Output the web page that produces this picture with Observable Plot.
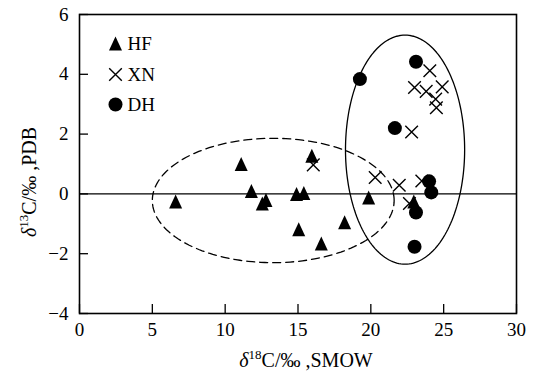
<!DOCTYPE html>
<html><head><meta charset="utf-8">
<script src="https://cdn.jsdelivr.net/npm/d3@7"></script>
<script src="https://cdn.jsdelivr.net/npm/@observablehq/plot@0.6"></script>
<style>
body{margin:0;background:#fff}
#chart svg{font-family:"Liberation Serif","Times New Roman",serif}
</style>
</head><body><div id="chart"></div>
<script>
// ---- data ----
const hfX = [6.6, 11.1, 11.8, 12.55, 12.8, 14.9, 15.4, 15.05, 15.95, 16.6, 18.2, 19.85, 22.95];
const hfY = [-0.25, 1.0, 0.1, -0.32, -0.2, 0.0, 0.03, -1.18, 1.28, -1.66, -0.95, -0.12, -0.25];
const xnX = [24.05, 23.0, 23.8, 24.9, 24.45, 24.5, 22.8, 20.3, 21.95, 23.5, 22.65, 16.05];
const xnY = [4.12, 3.56, 3.43, 3.58, 3.17, 2.88, 2.07, 0.55, 0.29, 0.43, -0.32, 0.97];
const dhX = [23.1, 19.25, 21.65, 24.0, 24.15, 23.1, 23.0];
const dhY = [4.42, 3.84, 2.2, 0.42, 0.05, -0.62, -1.77];
const seriesNames = ["HF", "XN", "DH"];
const xTicks = [0, 5, 10, 15, 20, 25, 30];
const yTicks = [-4, -2, 0, 2, 4, 6];
// ellipse annotations: [centerX, centerY, radiusX, radiusY]
const dashedEllipse = [13.3, -0.22, 8.3, 2.08];
const solidEllipse = [22.35, 1.48, 4.09, 3.83];

const toRows = (xs, ys) => xs.map((x, i) => ({x, y: ys[i]}));
const ellipsePts = ([cx, cy, rx, ry]) => d3.range(0, 361, 2).map(a => {
  const t = a * Math.PI / 180;
  return {x: cx + rx * Math.cos(t), y: cy + ry * Math.sin(t)};
});

const triSym = {draw(ctx, size) { const s = Math.sqrt(size / Math.PI);
  ctx.moveTo(0, -s); ctx.lineTo(s * 0.93, s); ctx.lineTo(-s * 0.93, s); ctx.closePath(); }};
const timesSym = {draw(ctx, size) { const s = Math.sqrt(size / Math.PI);
  ctx.moveTo(-s, -s); ctx.lineTo(s, s); ctx.moveTo(s, -s); ctx.lineTo(-s, s); }};

const fs = 19;
const plot = Plot.plot({
  width: 540, height: 376,
  marginLeft: 79, marginRight: 24, marginTop: 14, marginBottom: 63,
  style: {fontFamily: "'Liberation Serif','Times New Roman',serif", fontSize: fs + "px", background: "white", color: "black"},
  x: {domain: [0, 30]},
  y: {domain: [-4, 6]},
  marks: [
    Plot.line(ellipsePts(dashedEllipse), {x: "x", y: "y", stroke: "black", strokeWidth: 1.3, strokeDasharray: "8,5"}),
    Plot.line(ellipsePts(solidEllipse), {x: "x", y: "y", stroke: "black", strokeWidth: 1.3}),
    Plot.ruleY([0], {stroke: "black", strokeWidth: 1.4}),
    Plot.dot(toRows(hfX, hfY), {x: "x", y: "y", symbol: triSym, r: 7, fill: "black", stroke: "none"}),
    Plot.dot(toRows(xnX, xnY), {x: "x", y: "y", symbol: timesSym, r: 6.3, fill: "none", stroke: "black", strokeWidth: 1.4}),
    Plot.dot(toRows(dhX, dhY), {x: "x", y: "y", r: 7, fill: "black", stroke: "none"}),
    Plot.axisX(xTicks, {anchor: "bottom", tickSize: -9, tickPadding: 18, label: null, strokeWidth: 1.3, fontSize: fs}),
    Plot.axisY(yTicks, {anchor: "left", tickSize: -9, tickPadding: 20, label: null, strokeWidth: 1.3, fontSize: fs}),
    Plot.frame({stroke: "black", strokeWidth: 1.6}),
    // legend
    Plot.dot([seriesNames[0]], {frameAnchor: "top-left", dx: 36, dy: 29, symbol: triSym, r: 7, fill: "black", stroke: "none"}),
    Plot.dot([seriesNames[1]], {frameAnchor: "top-left", dx: 36, dy: 60, symbol: timesSym, r: 6.3, fill: "none", stroke: "black", strokeWidth: 1.4}),
    Plot.dot([seriesNames[2]], {frameAnchor: "top-left", dx: 36, dy: 90, r: 7, fill: "black", stroke: "none"}),
    Plot.text([seriesNames[0]], {text: d => d, frameAnchor: "top-left", dx: 48, dy: 29, textAnchor: "start", lineAnchor: "middle", fontSize: fs, fill: "black"}),
    Plot.text([seriesNames[1]], {text: d => d, frameAnchor: "top-left", dx: 48, dy: 60, textAnchor: "start", lineAnchor: "middle", fontSize: fs, fill: "black"}),
    Plot.text([seriesNames[2]], {text: d => d, frameAnchor: "top-left", dx: 48, dy: 90, textAnchor: "start", lineAnchor: "middle", fontSize: fs, fill: "black"})
  ]
});
document.getElementById("chart").appendChild(plot);

// axis titles with superscripts
const svg = d3.select(plot);
const tfs = 20;
const xl = svg.append("text").attr("x", 306).attr("y", 367).attr("text-anchor", "middle")
  .attr("font-size", tfs).attr("fill", "black");
xl.append("tspan").attr("font-style", "italic").text("δ");
xl.append("tspan").attr("font-size", 13).attr("dy", -8).text("18");
xl.append("tspan").attr("dy", 8).text("C/‰ ,SMOW");

const yl = svg.append("text").attr("transform", "translate(36,182) rotate(-90)").attr("text-anchor", "middle")
  .attr("font-size", tfs).attr("fill", "black");
yl.append("tspan").attr("font-style", "italic").text("δ");
yl.append("tspan").attr("font-size", 13).attr("dy", -8).text("13");
yl.append("tspan").attr("dy", 8).text("C/‰ ,PDB");
</script></body></html>
